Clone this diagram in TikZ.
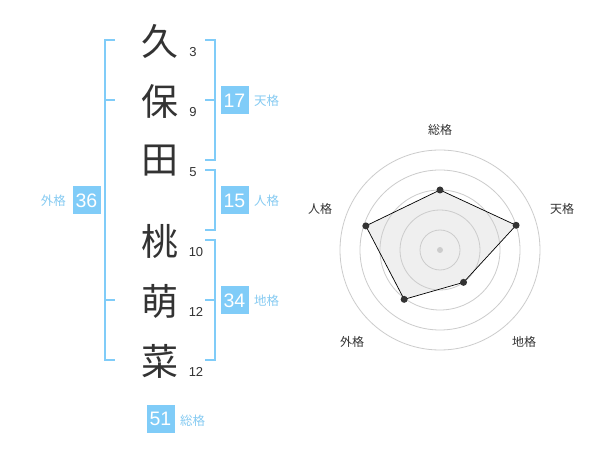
\documentclass[tikz,border=0pt]{standalone}
\usepackage{fontspec}
\setmainfont{Liberation Sans}
\newfontfamily\jpfont{Noto Sans CJK JP}
\usepackage{tikz}
\usetikzlibrary{calc}

\definecolor{kakuBlue}{HTML}{80CCF8}
\definecolor{kakuText}{HTML}{86CBF2}
\definecolor{inkGray}{HTML}{333333}
\definecolor{ringGray}{HTML}{CCCCCC}
\definecolor{areaGray}{HTML}{EFEFEF}

\begin{document}
\begin{tikzpicture}[x=1pt,y=-1pt]
  \tikzset{CharStyle/.style = {
    text          = inkGray,
    inner sep     = 0pt,
    font          = \jpfont\fontsize{37}{37}\selectfont
    }
  }
  \tikzset{StrokeStyle/.style = {
    text          = inkGray,
    inner sep     = 0pt,
    font          = \fontsize{13}{13}\selectfont
    }
  }
  \tikzset{BoxStyle/.style = {
    shape         = rectangle,
    fill          = kakuBlue,
    text          = white,
    inner sep     = 0pt,
    minimum width = 28pt,
    minimum height= 28pt,
    font          = \fontsize{19.5}{19.5}\selectfont
    }
  }
  \tikzset{KakuLabelStyle/.style = {
    text          = kakuText,
    inner sep     = 0pt,
    font          = \jpfont\fontsize{12.5}{12.5}\selectfont
    }
  }
  \tikzset{BracketStyle/.style = {
    draw          = kakuBlue,
    line width    = 2pt
    }
  }
  \tikzset{RingStyle/.style = {
    draw          = ringGray,
    line width    = 0.8pt
    }
  }
  \tikzset{DotStyle/.style = {
    shape         = circle,
    fill          = inkGray,
    inner sep     = 0pt,
    minimum size  = 7pt
    }
  }
  \tikzset{AxisLabelStyle/.style = {
    text          = inkGray,
    inner sep     = 0pt,
    font          = \jpfont\fontsize{12}{12}\selectfont
    }
  }

  \fill[white] (0,0) rectangle (600,470);

  % name characters and stroke counts
  \node[CharStyle](K1) at (160, 41) {久};
  \node[CharStyle](K2) at (160,101) {保};
  \node[CharStyle](K3) at (160,161) {田};
  \node[CharStyle](K4) at (160,241) {桃};
  \node[CharStyle](K5) at (160,301) {萌};
  \node[CharStyle](K6) at (160,361) {菜};
  \node[StrokeStyle](S1) at (193, 52) {3};
  \node[StrokeStyle](S2) at (193,112) {9};
  \node[StrokeStyle](S3) at (193,172) {5};
  \node[StrokeStyle](S4) at (196,252) {10};
  \node[StrokeStyle](S5) at (196,312) {12};
  \node[StrokeStyle](S6) at (196,372) {12};

  % brackets
  \draw[BracketStyle] (115,40) -- (105,40) -- (105,360) -- (115,360);
  \draw[BracketStyle] (105,100) -- (115,100);
  \draw[BracketStyle] (105,300) -- (115,300);
  \draw[BracketStyle] (205,40) -- (215,40) -- (215,160) -- (205,160);
  \draw[BracketStyle] (215,100) -- (205,100);
  \draw[BracketStyle] (205,170) -- (215,170) -- (215,230) -- (205,230);
  \draw[BracketStyle] (205,240) -- (215,240) -- (215,360) -- (205,360);
  \draw[BracketStyle] (215,300) -- (205,300);

  % scores
  \node[BoxStyle](Ten) at (234.5,100.5) {17};
  \node[KakuLabelStyle, anchor=west](TenL) at (254,100.5) {天格};
  \node[BoxStyle](Jin) at (234.5,200.5) {15};
  \node[KakuLabelStyle, anchor=west](JinL) at (254,200.5) {人格};
  \node[BoxStyle](Chi) at (234.5,300.5) {34};
  \node[KakuLabelStyle, anchor=west](ChiL) at (254,300.5) {地格};
  \node[BoxStyle](Gai) at (86.5,200.5) {36};
  \node[KakuLabelStyle, anchor=east](GaiL) at (66,200.5) {外格};
  \node[BoxStyle](Sou) at (160.5,419) {51};
  \node[KakuLabelStyle, anchor=west](SouL) at (180,421) {総格};

  % radar chart
  \coordinate (C) at (440,250);
  \coordinate (P1) at ($(C)+(-90:60)$);
  \coordinate (P2) at ($(C)+(-18:80)$);
  \coordinate (P3) at ($(C)+(54:40)$);
  \coordinate (P4) at ($(C)+(126:61)$);
  \coordinate (P5) at ($(C)+(198:78)$);
  \fill[areaGray] (P1) -- (P2) -- (P3) -- (P4) -- (P5) -- cycle;
  \foreach \r in {20,40,60,80,100}
    \draw[RingStyle] (C) circle (\r);
  \draw[black, line width=0.7pt]
    (P1) -- (P2) -- (P3) -- (P4) -- (P5) -- cycle;
  \fill[ringGray] (C) circle (3);
  \foreach \p in {P1,P2,P3,P4,P5}
    \node[DotStyle] at (\p) {};

  \node[AxisLabelStyle](L1) at (440,130) {総格};
  \node[AxisLabelStyle](L2) at (562,209) {天格};
  \node[AxisLabelStyle](L3) at (524,342) {地格};
  \node[AxisLabelStyle](L4) at (352,342) {外格};
  \node[AxisLabelStyle](L5) at (320,209) {人格};
\end{tikzpicture}
\end{document}
